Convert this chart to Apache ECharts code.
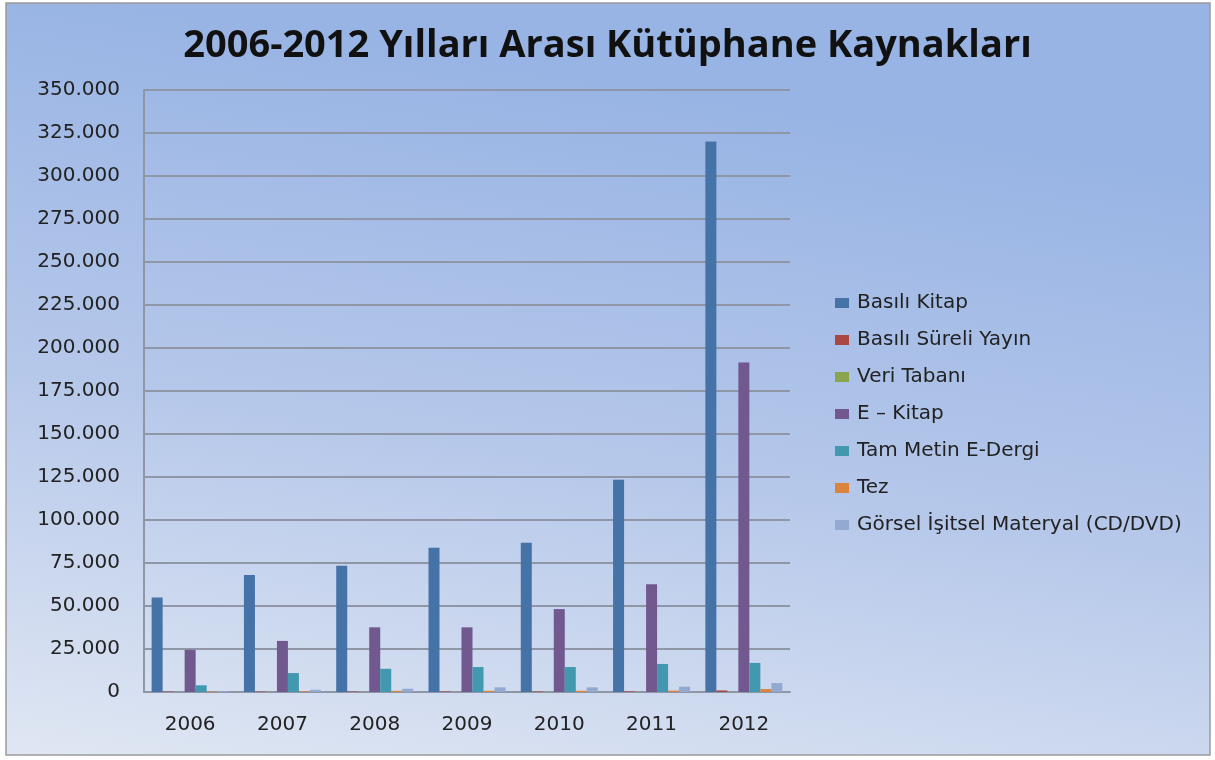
<!DOCTYPE html>
<html>
<head>
<meta charset="utf-8">
<script src="https://cdn.jsdelivr.net/npm/echarts@6/dist/echarts.min.js"></script>
<style>
  html, body { margin: 0; padding: 0; background: #fff; }
  #main { width: 1215px; height: 760px; }
</style>
</head>
<body>
<div id="main"></div>
<script>
var years = ['2006', '2007', '2008', '2009', '2010', '2011', '2012']
var seriesNames = ['Basılı Kitap', 'Basılı Süreli Yayın', 'Veri Tabanı', 'E – Kitap', 'Tam Metin E-Dergi', 'Tez', 'Görsel İşitsel Materyal (CD/DVD)']
var basiliKitap = [55000, 68000, 73400, 83800, 86800, 123400, 320000]
var basiliSureli = [250, 250, 300, 300, 300, 350, 900]
var veriTabani = [40, 50, 60, 70, 80, 90, 100]
var eKitap = [24500, 29700, 37600, 37600, 48200, 62600, 191600]
var eDergi = [3900, 11000, 13500, 14500, 14500, 16300, 16900]
var tez = [300, 400, 700, 700, 700, 800, 1700]
var gorsel = [600, 1300, 1900, 2700, 2700, 3100, 5200]
var colors = ['#4572a7', '#aa4643', '#89a54e', '#71588f', '#4198af', '#db843d', '#93a9cf']

var allData = [basiliKitap, basiliSureli, veriTabani, eKitap, eDergi, tez, gorsel]
var chart = echarts.init(document.getElementById('main'))
var font = '"DejaVu Sans", sans-serif'

var series = []
for (var i = 0; i < seriesNames.length; i++) {
  series.push({
    name: seriesNames[i],
    type: 'bar',
    data: allData[i],
    barWidth: 11,
    barGap: '0%',
    itemStyle: { color: colors[i] }
  })
}

chart.setOption({
  backgroundColor: '#ffffff',
  animation: false,
  graphic: [{
    type: 'rect',
    z: -10,
    shape: { x: 6, y: 3, width: 1204, height: 752 },
    style: {
      fill: new echarts.graphic.LinearGradient(0.1, 0, 0, 1, [
        { offset: 0, color: '#98b4e4' },
        { offset: 0.5, color: '#b6c8ea' },
        { offset: 1, color: '#e0e7f3' }
      ]),
      stroke: '#9a9a9a',
      lineWidth: 1.5
    }
  }],
  title: {
    text: '2006-2012 Yılları Arası Kütüphane Kaynakları',
    left: 'center',
    top: 22,
    textStyle: { fontFamily: '"Open Sans", sans-serif', fontWeight: 'bold', fontSize: 38, color: '#111' }
  },
  color: colors,
  legend: {
    orient: 'vertical',
    left: 830,
    top: 288,
    itemWidth: 14,
    itemHeight: 10,
    itemGap: 17,
    icon: 'rect',
    data: seriesNames,
    textStyle: { fontFamily: font, fontSize: 20, color: '#222', padding: [0, 0, 0, 3] }
  },
  grid: { left: 144, right: 425, top: 90, bottom: 68 },
  xAxis: {
    type: 'category',
    data: years,
    axisTick: { show: false },
    axisLine: { lineStyle: { color: '#8f97a6', width: 2 } },
    axisLabel: { fontFamily: font, fontSize: 20, color: '#222', margin: 23 }
  },
  yAxis: {
    type: 'value',
    min: 0,
    max: 350000,
    interval: 25000,
    axisLine: { show: true, lineStyle: { color: '#8f97a6', width: 2 } },
    axisTick: { show: false },
    splitLine: { lineStyle: { color: '#8f97a6', width: 2 } },
    axisLabel: {
      fontFamily: font, fontSize: 20, color: '#222', margin: 24,
      formatter: function (v) {
        return v === 0 ? '0' : v.toLocaleString('de-DE')
      }
    }
  },
  series: series
})
</script>
</body>
</html>
